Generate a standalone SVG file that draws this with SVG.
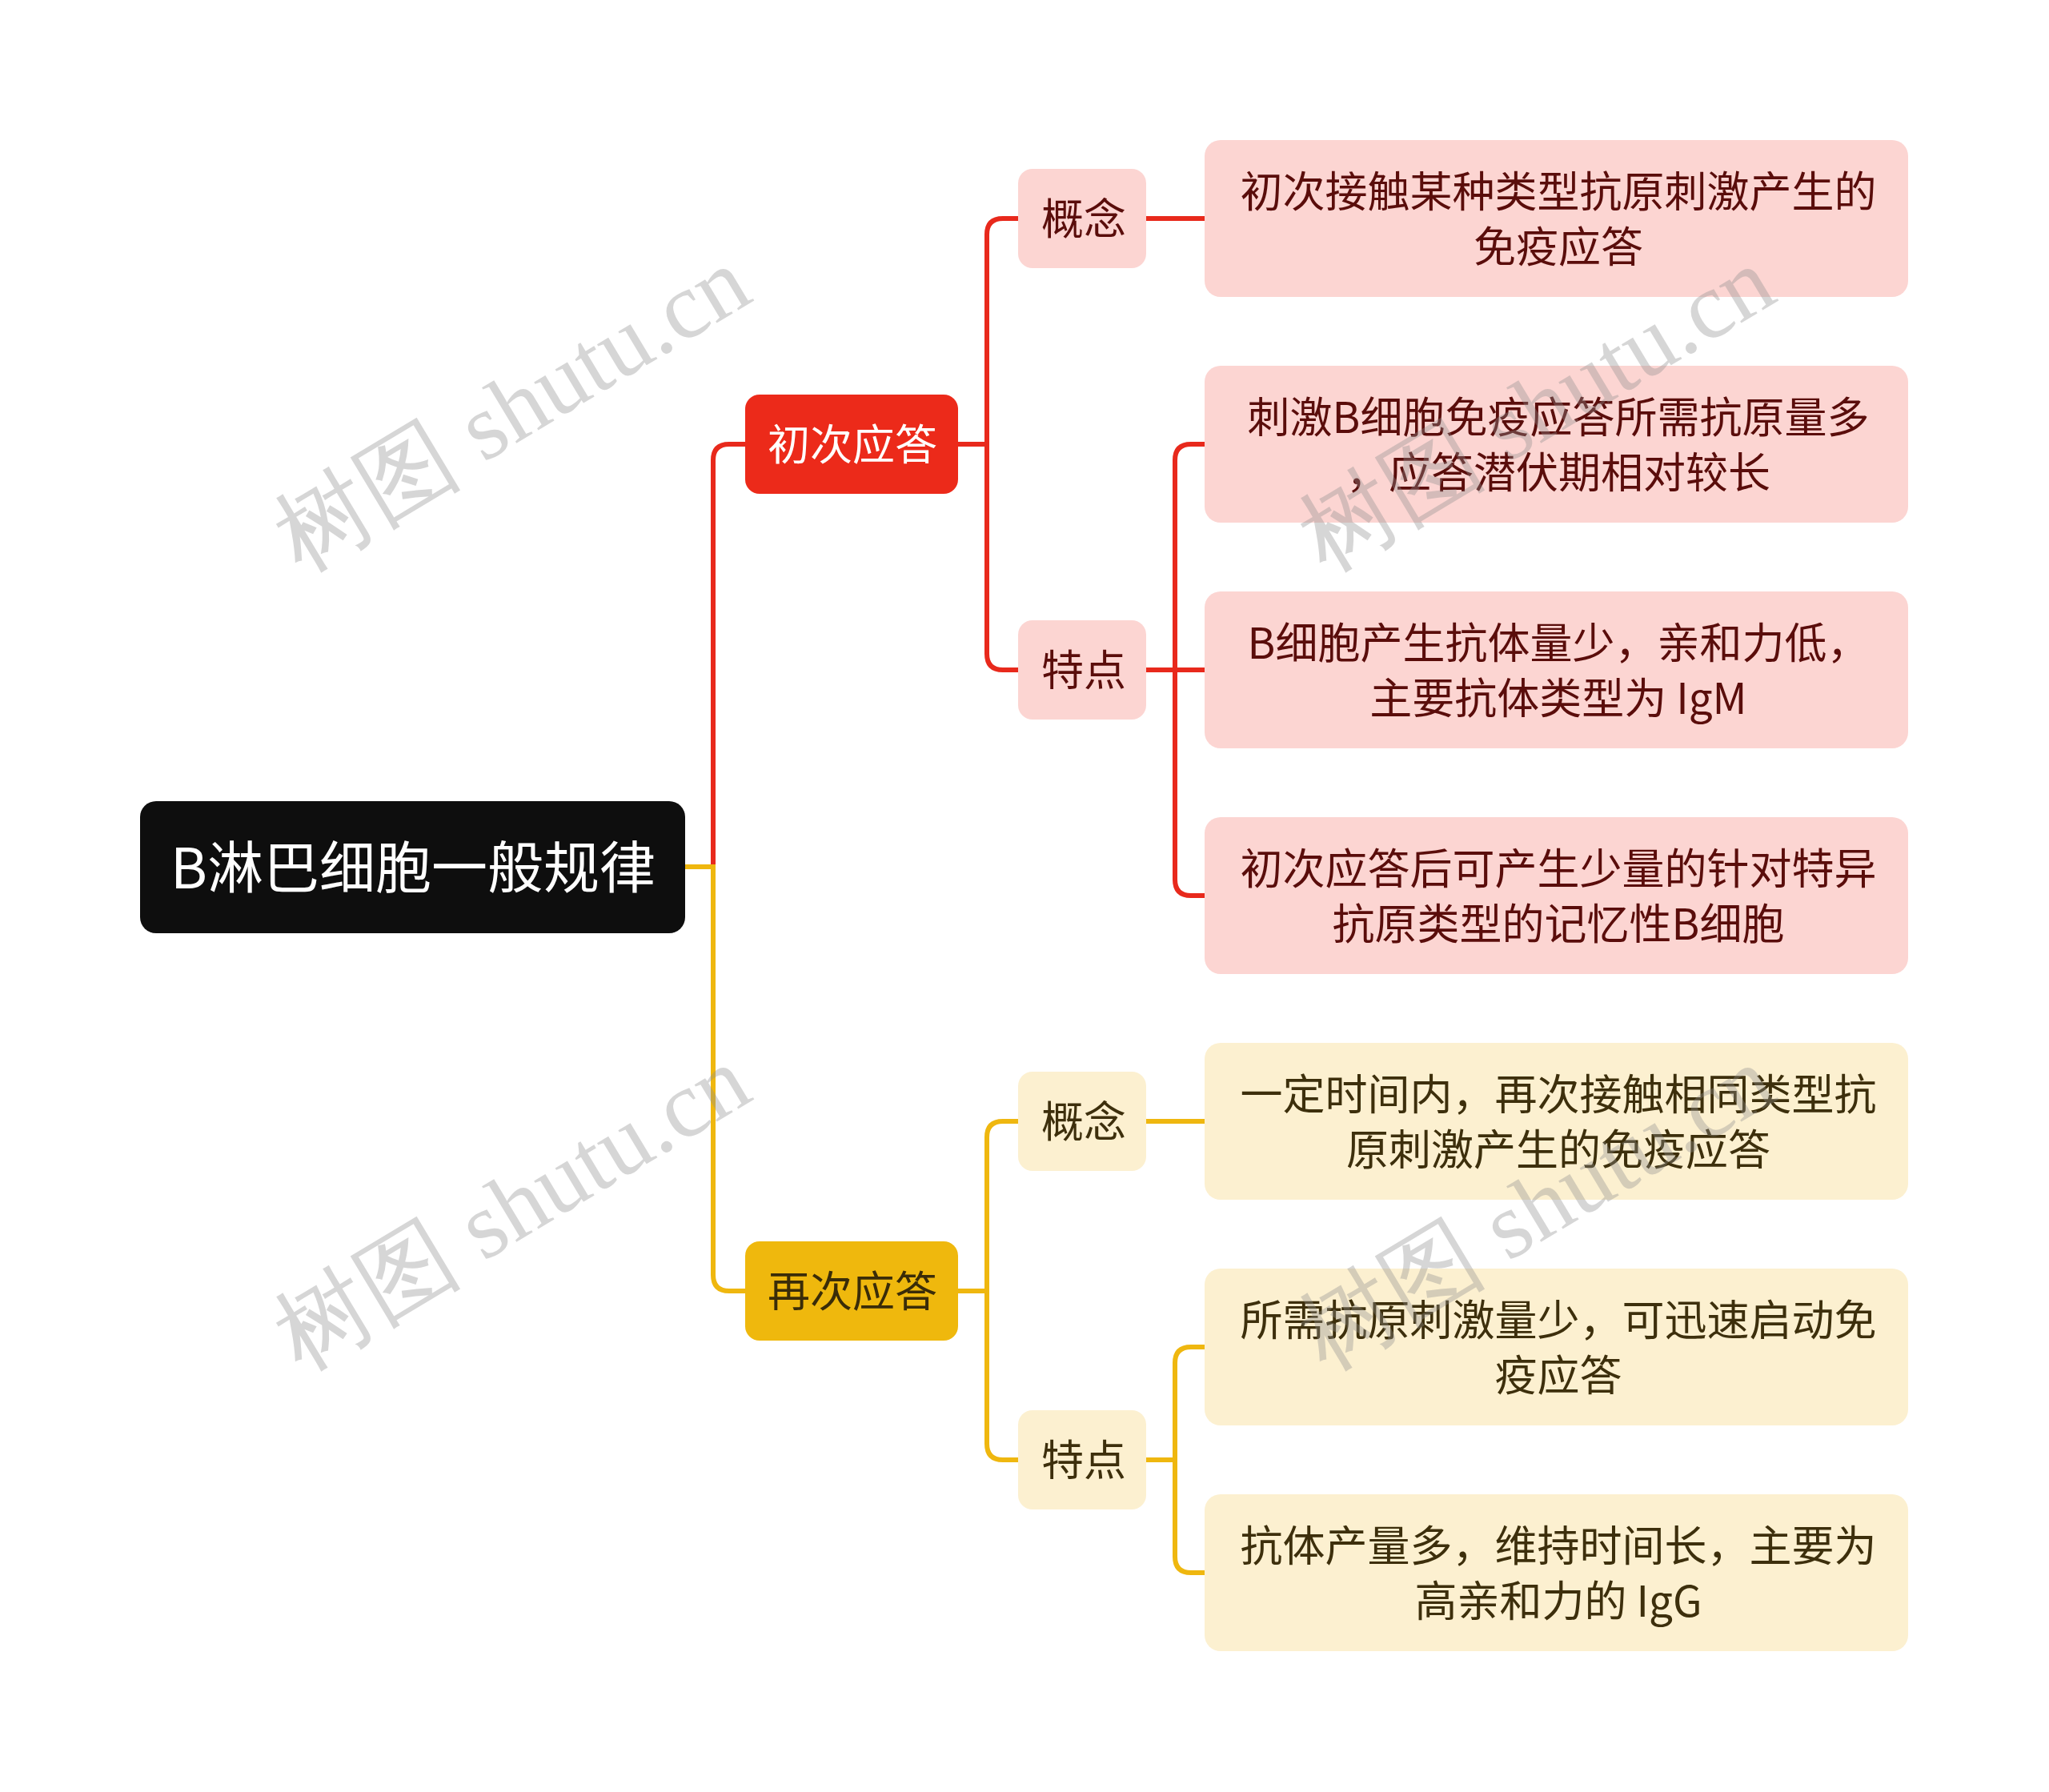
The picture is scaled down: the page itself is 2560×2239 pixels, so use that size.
<svg xmlns="http://www.w3.org/2000/svg" width="2560" height="2239" viewBox="0 0 2560 2239">
<style>
text{font-family:"Noto Sans CJK SC","Noto Sans",sans-serif;text-anchor:middle}
.t53{font-size:53px}
.rt{fill:#5a0d0b}
.yt{fill:#3d2f0c}
.rl{fill:#fcd5d2}
.yl{fill:#fcf0d0}
.red{fill:none;stroke:#e8291c;stroke-width:6}
.yel{fill:none;stroke:#efb70f;stroke-width:6}
.wm{font-family:"Liberation Serif","DejaVu Serif",serif;font-size:118px;fill:#8c8c8c;fill-opacity:0.36;text-anchor:middle}
</style>
<rect width="2560" height="2239" fill="#ffffff"/>
<g id="connectors">
<path class="red" d="M891,1083 V575 Q891,555 911,555 H931"/>
<path class="yel" d="M855,1083 H891 V1593 Q891,1613 911,1613 H931"/>
<path class="red" d="M1197,555 H1233"/>
<path class="red" d="M1272,273 H1253 Q1233,273 1233,293 V817 Q1233,837 1253,837 H1272"/>
<path class="red" d="M1432,273 H1505"/>
<path class="red" d="M1432,837 H1505"/>
<path class="red" d="M1505,555 H1488 Q1468,555 1468,575 V1099 Q1468,1119 1488,1119 H1505"/>
<path class="yel" d="M1197,1613 H1233"/>
<path class="yel" d="M1272,1401 H1253 Q1233,1401 1233,1421 V1804 Q1233,1824 1253,1824 H1272"/>
<path class="yel" d="M1432,1401 H1505"/>
<path class="yel" d="M1432,1824 H1468"/>
<path class="yel" d="M1505,1683 H1488 Q1468,1683 1468,1703 V1945 Q1468,1965 1488,1965 H1505"/>
</g>
<g id="root">
<rect x="175" y="1001" width="681" height="165" rx="20" fill="#0e0e0e"/>
<text x="516" y="1110" font-size="70" fill="#ffffff">B淋巴细胞一般规律</text>
</g>
<g id="n-chuci">
<rect x="931" y="493" width="266" height="124" rx="18" fill="#ec2a1a"/>
<text class="t53" x="1065" y="575" fill="#ffffff">初次应答</text>
</g>
<g id="n-zaici">
<rect x="931" y="1551" width="266" height="124" rx="18" fill="#efb80d"/>
<text class="t53" x="1065" y="1633" fill="#3a2c08">再次应答</text>
</g>
<g id="n-r-gainian">
<rect class="rl" x="1272" y="211" width="160" height="124" rx="18"/>
<text class="t53 rt" x="1354" y="293">概念</text>
</g>
<g id="n-r-tedian">
<rect class="rl" x="1272" y="775" width="160" height="124" rx="18"/>
<text class="t53 rt" x="1354" y="857">特点</text>
</g>
<g id="n-y-gainian">
<rect class="yl" x="1272" y="1339" width="160" height="124" rx="18"/>
<text class="t53 yt" x="1354" y="1421">概念</text>
</g>
<g id="n-y-tedian">
<rect class="yl" x="1272" y="1762" width="160" height="124" rx="18"/>
<text class="t53 yt" x="1354" y="1844">特点</text>
</g>
<g id="leaf1">
<rect class="rl" x="1505" y="175" width="879" height="196" rx="20"/>
<text class="t53 rt" x="1947" y="259">初次接触某种类型抗原刺激产生的</text>
<text class="t53 rt" x="1947" y="328">免疫应答</text>
</g>
<g id="leaf2">
<rect class="rl" x="1505" y="457" width="879" height="196" rx="20"/>
<text class="t53 rt" x="1947" y="541">刺激B细胞免疫应答所需抗原量多</text>
<text class="t53 rt" x="1947" y="610">，应答潜伏期相对较长</text>
</g>
<g id="leaf3">
<rect class="rl" x="1505" y="739" width="879" height="196" rx="20"/>
<text class="t53 rt" x="1947" y="823">B细胞产生抗体量少，亲和力低，</text>
<text class="t53 rt" x="1947" y="892">主要抗体类型为 IgM</text>
</g>
<g id="leaf4">
<rect class="rl" x="1505" y="1021" width="879" height="196" rx="20"/>
<text class="t53 rt" x="1947" y="1105">初次应答后可产生少量的针对特异</text>
<text class="t53 rt" x="1947" y="1174">抗原类型的记忆性B细胞</text>
</g>
<g id="leaf5">
<rect class="yl" x="1505" y="1303" width="879" height="196" rx="20"/>
<text class="t53 yt" x="1947" y="1387">一定时间内，再次接触相同类型抗</text>
<text class="t53 yt" x="1947" y="1456">原刺激产生的免疫应答</text>
</g>
<g id="leaf6">
<rect class="yl" x="1505" y="1585" width="879" height="196" rx="20"/>
<text class="t53 yt" x="1947" y="1669">所需抗原刺激量少，可迅速启动免</text>
<text class="t53 yt" x="1947" y="1738">疫应答</text>
</g>
<g id="leaf7">
<rect class="yl" x="1505" y="1867" width="879" height="196" rx="20"/>
<text class="t53 yt" x="1947" y="1951">抗体产量多，维持时间长，主要为</text>
<text class="t53 yt" x="1947" y="2020">高亲和力的 IgG</text>
</g>
<g id="watermarks">
<text class="wm" transform="translate(660,545) rotate(-31)">树图 shutu.cn</text>
<text class="wm" transform="translate(1940,545) rotate(-31)">树图 shutu.cn</text>
<text class="wm" transform="translate(660,1543) rotate(-31)">树图 shutu.cn</text>
<text class="wm" transform="translate(1940,1543) rotate(-31)">树图 shutu.cn</text>
</g>
</svg>
